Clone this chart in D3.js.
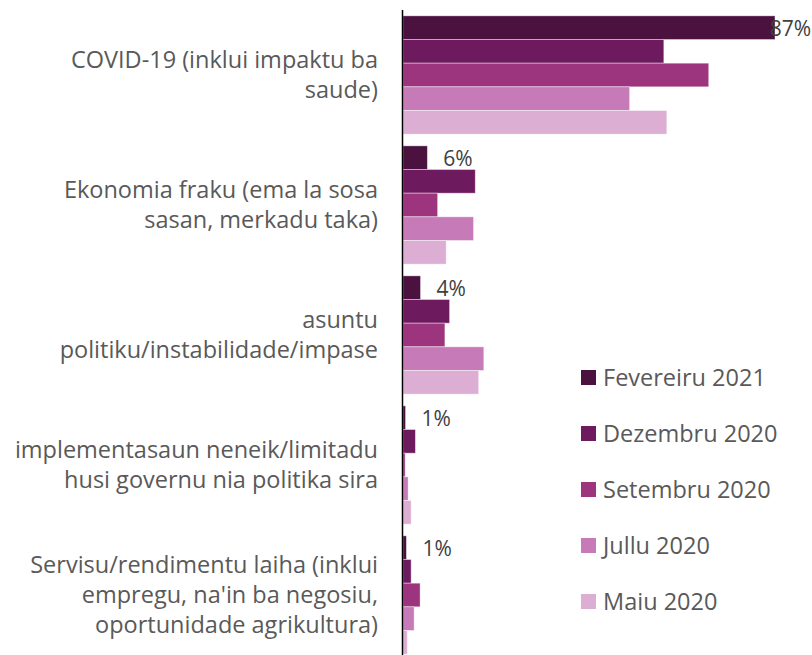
<!DOCTYPE html>
<html>
<head>
<meta charset="utf-8">
<script src="https://cdn.jsdelivr.net/npm/d3@7"></script>
<style>
  body { margin: 0; background: #fff; }
  svg { display: block; font-family: "Open Sans", "Noto Sans", sans-serif; }
</style>
</head>
<body>
<svg id="chart" width="812" height="655"></svg>
<script>
// categorias (eixo vertical), linhas separadas por "|"
const categories = [
  "COVID-19 (inklui impaktu ba|saude)",
  "Ekonomia fraku (ema la sosa|sasan, merkadu taka)",
  "asuntu|politiku/instabilidade/impase",
  "implementasaun neneik/limitadu|husi governu nia politika sira",
  "Servisu/rendimentu laiha (inklui|empregu, na'in ba negosiu,|oportunidade agrikultura)"
];

const seriesNames = ["Fevereiru 2021", "Dezembru 2020", "Setembru 2020", "Jullu 2020", "Maiu 2020"];

// valores em % por série (mesma ordem que categories)
const feb2021 = [87, 5.7, 4.1, 0.6, 0.8];
const dez2020 = [61, 16.9, 10.9, 2.9, 1.9];
const set2020 = [71.5, 8.1, 9.8, 0.5, 4];
const jul2020 = [53, 16.5, 18.9, 1.2, 2.6];
const mai2020 = [61.7, 10.1, 17.7, 1.9, 1];

// rótulos só para fevereiru 2021
const febLabels = ["87%", "6%", "4%", "1%", "1%"];

const colors = ["#4b1240", "#6e1a5e", "#9c357d", "#c67bb8", "#dcaed4"];

const allSeries = [feb2021, dez2020, set2020, jul2020, mai2020];

const svg = d3.select("#chart");
const W = 812, H = 655;
const x0 = 403;

const x = d3.scaleLinear().domain([0, 87]).range([x0, 775]);

const y = d3.scaleBand()
  .domain(d3.range(categories.length))
  .range([10, 660])
  .paddingInner(0.09)
  .paddingOuter(0.045);

const ySub = d3.scaleBand()
  .domain(d3.range(seriesNames.length))
  .range([0, y.bandwidth()]);

// barras
const groups = svg.append("g").selectAll("g")
  .data(categories)
  .join("g")
  .attr("transform", (d, i) => `translate(0,${y(i)})`);

groups.selectAll("rect")
  .data((d, i) => allSeries.map((s, k) => ({ k, v: s[i] })))
  .join("rect")
  .attr("x", x0)
  .attr("y", d => ySub(d.k))
  .attr("width", d => x(d.v) - x0)
  .attr("height", ySub.bandwidth())
  .attr("fill", d => colors[d.k])
  .attr("stroke", "#ffffff")
  .attr("stroke-opacity", 0.5)
  .attr("stroke-width", 0.8);

// eixo vertical
svg.append("line")
  .attr("x1", 402.5).attr("x2", 402.5)
  .attr("y1", 10).attr("y2", H)
  .attr("stroke", "#000")
  .attr("stroke-width", 1.5);

// rótulos de categoria
categories.forEach((c, i) => {
  const lines = c.split("|");
  const lh = 30;
  const cy = y(i) + y.bandwidth() / 2;
  const t = svg.append("text")
    .attr("text-anchor", "end")
    .attr("fill", "#595959")
    .style("font-size", "23.5px");
  lines.forEach((l, j) => {
    t.append("tspan")
      .attr("x", 378)
      .attr("y", cy + (j - (lines.length - 1) / 2) * lh)
      .attr("dy", "0.35em")
      .text(l);
  });
});

// rótulos de valor (fevereiru)
febLabels.forEach((lab, i) => {
  const t = svg.append("text")
    .attr("y", y(i) + ySub(0) + ySub.bandwidth() / 2)
    .attr("dy", "0.4em")
    .attr("fill", "#404040")
    .style("font-size", "21px")
    .text(lab);
  const w = t.node().getComputedTextLength();
  let px = x(feb2021[i]) + 16;
  if (px + w > W - 1) px = W - 1 - w;
  t.attr("x", px);
});

// legenda
const legend = svg.append("g").selectAll("g")
  .data(seriesNames)
  .join("g")
  .attr("transform", (d, i) => `translate(581,${377.5 + i * 56})`);

legend.append("rect")
  .attr("x", 0).attr("y", -7.5)
  .attr("width", 15).attr("height", 15)
  .attr("fill", (d, i) => colors[i]);

legend.append("text")
  .attr("x", 22)
  .attr("dy", "0.35em")
  .attr("fill", "#595959")
  .style("font-size", "23.5px")
  .text(d => d);
</script>
</body>
</html>
